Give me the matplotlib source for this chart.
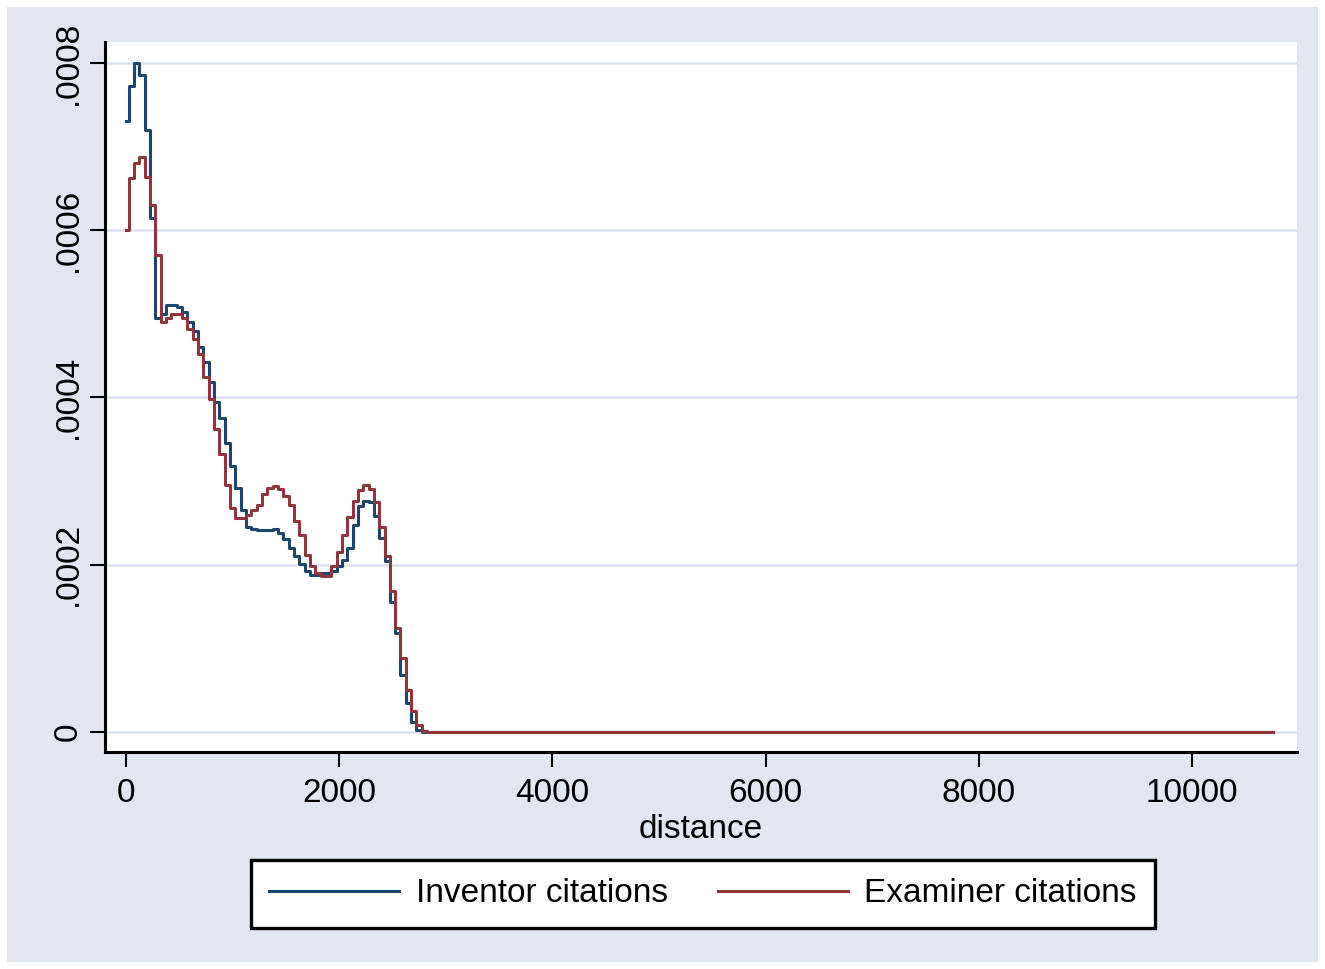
import matplotlib

matplotlib.use("Agg")
import matplotlib.pyplot as plt
from matplotlib.patches import Rectangle

plt.rcParams["font.family"] = ["Liberation Sans", "DejaVu Sans"]

# distance grid (every 50 up to 2850, then the last observation)
distance = list(range(0, 2900, 50)) + [10760]

inventor = [
    0.000730, 0.000772, 0.000800, 0.000785, 0.000720, 0.000615, 0.000495, 0.000500,
    0.000510, 0.000511, 0.000508, 0.000502, 0.000490, 0.000480, 0.000460, 0.000442,
    0.000418, 0.000395, 0.000375, 0.000345, 0.000318, 0.000292, 0.000265, 0.000245,
    0.000243, 0.000242, 0.000242, 0.000242, 0.000243, 0.000238, 0.000231, 0.000220,
    0.000210, 0.000201, 0.000192, 0.000188, 0.000188, 0.000190, 0.000190, 0.000193,
    0.000198, 0.000206, 0.000220, 0.000248, 0.000270, 0.000276, 0.000275, 0.000258,
    0.000232, 0.000205, 0.000155, 0.000118, 0.000068, 0.000035, 0.000012, 0.000003,
    0.0, 0.0, 0.0,
]

examiner = [
    0.000600, 0.000662, 0.000680, 0.000688, 0.000664, 0.000630, 0.000570, 0.000490,
    0.000495, 0.000500, 0.000500, 0.000495, 0.000482, 0.000470, 0.000452, 0.000424,
    0.000398, 0.000362, 0.000332, 0.000295, 0.000268, 0.000256, 0.000256, 0.000259,
    0.000266, 0.000272, 0.000285, 0.000292, 0.000294, 0.000291, 0.000282, 0.000271,
    0.000252, 0.000235, 0.000212, 0.000198, 0.000190, 0.000187, 0.000187, 0.000198,
    0.000215, 0.000236, 0.000257, 0.000276, 0.000289, 0.000295, 0.000290, 0.000275,
    0.000245, 0.000210, 0.000168, 0.000124, 0.000088, 0.000050, 0.000025, 0.000008,
    0.000001, 0.0, 0.0,
]

xticks = [0, 2000, 4000, 6000, 8000, 10000]
yticks = [0, 0.0002, 0.0004, 0.0006, 0.0008]
ytick_labels = ["0", ".0002", ".0004", ".0006", ".0008"]

BG = "#e1e6f0"
GRID = "#dde3ee"
NAVY = "#1a476f"
MAROON = "#90353b"
FS = 24
LW = 2.2

fig = plt.figure(figsize=(13.25, 9.69), dpi=100, facecolor="white")
# light blue-grey graph region with a thin white margin
fig.patches.append(Rectangle((7 / 1325, 7 / 969), 1311 / 1325, 955 / 969,
                             transform=fig.transFigure, facecolor=BG,
                             edgecolor="none", zorder=-10))

ax = fig.add_axes([105 / 1325, 1 - 752 / 969, 1192 / 1325, 710 / 969])
ax.set_facecolor("white")

ax.plot(distance, inventor, color=NAVY, lw=LW, drawstyle="steps-mid",
        label="Inventor citations", zorder=3)
ax.plot(distance, examiner, color=MAROON, lw=LW, drawstyle="steps-mid",
        label="Examiner citations", zorder=3)

ax.set_xlim(-197, 10985)
ax.set_ylim(-0.0000239, 0.000825)
ax.set_xticks(xticks)
ax.set_xticklabels([str(t) for t in xticks], fontsize=FS)
ax.set_yticks(yticks)
ax.set_yticklabels(ytick_labels, fontsize=FS, rotation=90, va="center")

ax.grid(axis="y", color=GRID, lw=1.8)
ax.set_axisbelow(True)

for side in ("top", "right"):
    ax.spines[side].set_visible(False)
for side in ("left", "bottom"):
    ax.spines[side].set_linewidth(2.2)
    ax.spines[side].set_color("black")

ax.tick_params(axis="both", direction="out", length=11, width=1.5, color="black")
ax.tick_params(axis="x", pad=8)
ax.tick_params(axis="y", pad=4)

ax.set_xlabel("distance", fontsize=FS, labelpad=3)

leg = ax.legend(loc="center", bbox_to_anchor=(703 / 1325, 1 - 894 / 969),
                bbox_transform=fig.transFigure, ncol=2, fontsize=FS,
                frameon=True, fancybox=False, framealpha=1, handlelength=3.9,
                handletextpad=0.5, columnspacing=1.5, borderpad=0.55,
                borderaxespad=0)
leg.get_frame().set_edgecolor("black")
leg.get_frame().set_facecolor("white")
leg.get_frame().set_linewidth(2.4)
for line in leg.get_lines():
    line.set_linewidth(LW)

fig.savefig("out.png", dpi=100, facecolor="white")
